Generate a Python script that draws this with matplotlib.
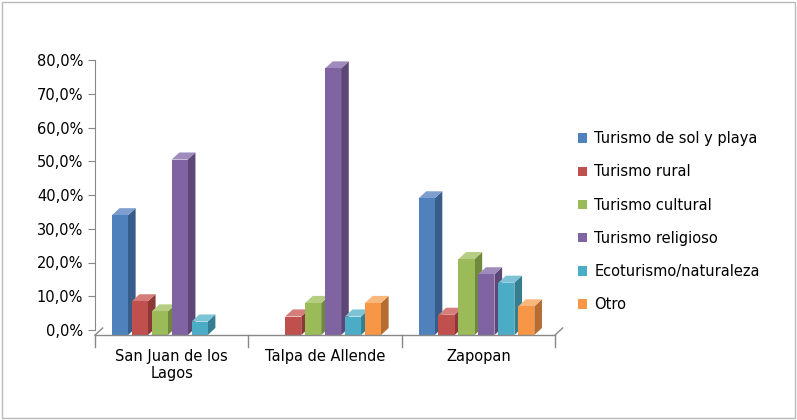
import matplotlib
matplotlib.use("Agg")
import matplotlib.pyplot as plt
from matplotlib.patches import Polygon, Patch, Rectangle
import numpy as np
from matplotlib.ticker import FuncFormatter

categories = ["San Juan de los\nLagos", "Talpa de Allende", "Zapopan"]
series = ["Turismo de sol y playa", "Turismo rural", "Turismo cultural",
          "Turismo religioso", "Ecoturismo/naturaleza", "Otro"]
values = {
    "Turismo de sol y playa": [34.0, 0.0, 39.0],
    "Turismo rural": [8.5, 4.0, 4.5],
    "Turismo cultural": [5.5, 8.0, 21.0],
    "Turismo religioso": [50.5, 77.5, 16.5],
    "Ecoturismo/naturaleza": [2.5, 4.0, 14.0],
    "Otro": [0.0, 8.0, 7.0],
}
front = ["#4F81BD", "#C0504D", "#9BBB59", "#8064A2", "#4BACC6", "#F79646"]
side = ["#385D8A", "#8C3836", "#71893F", "#5C4776", "#357D91", "#B66D31"]
top = ["#7E9FCE", "#D47E7B", "#B5CE83", "#A08BBD", "#7DC3D6", "#F9B77E"]

fig = plt.figure(figsize=(7.97, 4.2), dpi=100)
fig.patches.append(Rectangle((0.003, 0.005), 0.994, 0.99, transform=fig.transFigure,
                             fill=False, edgecolor="#bbbbbb", lw=1))
ax = fig.add_axes([95 / 797, 90 / 420, 460 / 797, 270 / 420])
ax.set_xlim(0, 3)
ax.set_ylim(0, 80)

bw, step, dx, dy = 0.105, 0.13, 0.05, 2.1
for ci in range(len(categories)):
    x0 = ci + 0.11
    for si, s in enumerate(series):
        v = values[s][ci]
        x = x0 + si * step
        y0 = -1.5
        h = v + 1.5
        if v <= 0:
            continue
        ax.add_patch(Polygon([(x + bw, y0), (x + bw + dx, y0 + dy), (x + bw + dx, y0 + h + dy), (x + bw, y0 + h)],
                             closed=True, facecolor=side[si], edgecolor="none", clip_on=False))
        ax.add_patch(Polygon([(x, y0 + h), (x + dx, y0 + h + dy), (x + bw + dx, y0 + h + dy), (x + bw, y0 + h)],
                             closed=True, facecolor=top[si], edgecolor="none", clip_on=False))
        ax.add_patch(Rectangle((x, y0), bw, h, facecolor=front[si], edgecolor="none", clip_on=False))

for sp in ["top", "right", "bottom"]:
    ax.spines[sp].set_visible(False)
ax.spines["left"].set_color("#888888")
ax.set_yticks(np.arange(0, 81, 10))
ax.yaxis.set_major_formatter(FuncFormatter(lambda v, p: f"{v:.1f}%".replace(".", ",")))
ax.tick_params(axis="y", labelsize=10.5, color="#888888", length=5)
ax.set_xticks([])
ax.plot([0, 3], [-1.5, -1.5], color="#888888", lw=1, clip_on=False)
ax.plot([0, 0.05], [-1.5, 0.6], color="#888888", lw=1, clip_on=False)
ax.plot([3, 3.05], [-1.5, 0.6], color="#888888", lw=1, clip_on=False)
for xb in [0, 1, 2, 3]:
    ax.plot([xb, xb], [-1.5, -5], color="#888888", lw=1, clip_on=False)
for ci, c in enumerate(categories):
    ax.text(ci + 0.5, -5.5, c, ha="center", va="top", fontsize=10.5)

handles = [Patch(facecolor=front[i], label=s) for i, s in enumerate(series)]
fig.legend(handles=handles, loc="upper left", bbox_to_anchor=(565 / 797, 1 - 118 / 420),
           frameon=False, fontsize=10.5, handlelength=0.6, handleheight=0.6,
           handletextpad=0.5, labelspacing=1.25)

fig.savefig("out.png", dpi=100, facecolor="white")
